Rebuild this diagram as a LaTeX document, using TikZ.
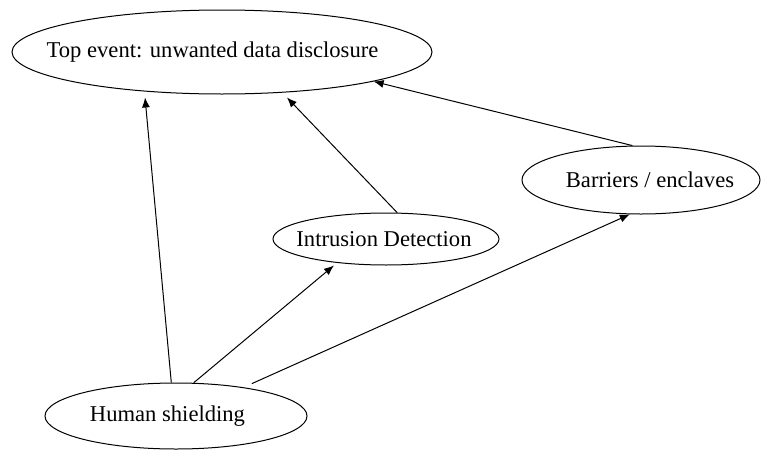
\documentclass[tikz,border=0pt]{standalone}
\usepackage{fontspec}
\setmainfont{Liberation Serif}
\usetikzlibrary{shapes.geometric,arrows.meta}
\begin{document}
\begin{tikzpicture}[x=0.5pt,y=-0.5pt,
  ell/.style={draw,ellipse,inner sep=0pt,line width=0.5pt,font=\fontsize{11.3pt}{13pt}\selectfont},
  arr/.style={-{Latex[length=5pt,width=4pt]},line width=0.5pt}]
\useasboundingbox (0,0) rectangle (761,450);
\node[ell,minimum width=210pt,minimum height=42pt] (t) at (222,52) {\makebox[0pt]{\hspace*{-9.5pt}Top event: unwanted data disclosure}};
\node[ell,minimum width=119pt,minimum height=34pt] (b) at (641,180) {\makebox[0pt]{\hspace*{9pt}Barriers / enclaves}};
\node[ell,minimum width=113pt,minimum height=26pt] (i) at (386,239) {\makebox[0pt]{\hspace*{-2pt}Intrusion Detection}};
\node[ell,minimum width=131pt,minimum height=33pt] (h) at (176,416) {\makebox[0pt]{\hspace*{-8.5pt}Human shielding}};
\draw[arr,shorten >=3pt] (h.98.6) -- (t.207.4);
\draw[arr,shorten >=2pt] (h.62) -- (i.206.3);
\draw[arr,shorten <=4.5pt] (h.23.4) -- (b.252);
\draw[arr,shorten >=3.3pt] (i.67) -- (t.326.5);
\draw[arr] (b.104.8) -- (t.349.8);
\end{tikzpicture}
\end{document}
